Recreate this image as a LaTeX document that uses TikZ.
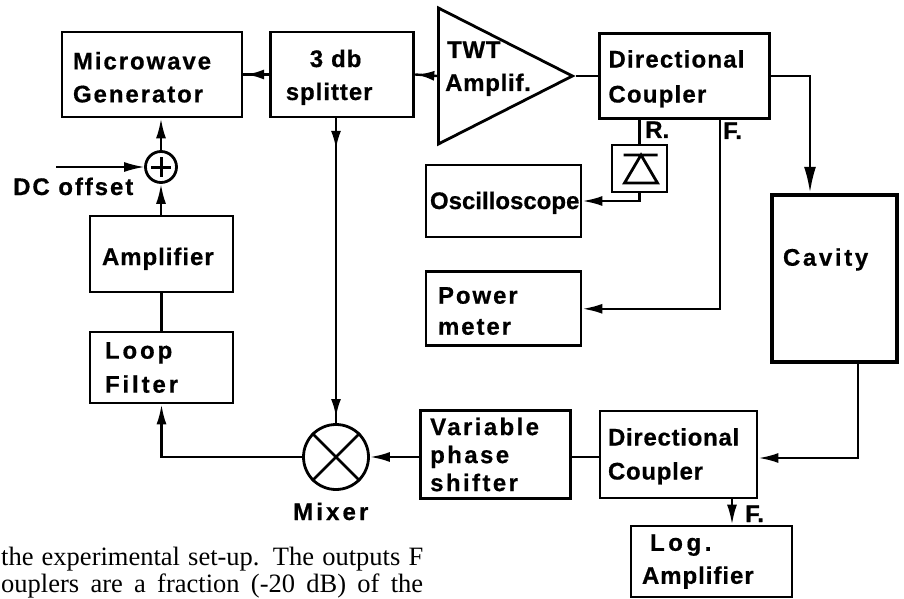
\documentclass[tikz,border=0pt]{standalone}
\usepackage{fontspec}
\usepackage{tikz}
\usetikzlibrary{arrows.meta,positioning,shapes.geometric,decorations.markings}
\newfontfamily\labfont{Liberation Sans}
\newfontfamily\capfont{Liberation Serif}
\newcommand{\dn}[1]{\rule{0pt}{#1pt}}

\begin{document}
\begin{tikzpicture}[x=1pt,y=-1pt,>=Latex,
  sp/.style={font=\labfont\bfseries\fontsize{24}{33}\selectfont\addfontfeatures{LetterSpace=#1,FakeBold=0.6}},
  blk/.style n args={4}{draw,line width=2.8pt,sp=#4,align=left,inner ysep=0pt,inner xsep=#3pt,minimum width=#1pt,minimum height=#2pt,text width={(#1-2*#3)*1pt}},
  lab/.style={sp=#1,inner sep=0pt,anchor=base west},
  cn/.style={line width=2.4pt},
  hd/.style={-{Latex[length=20pt,width=10pt]}},
  hdbig/.style={-{Latex[length=26pt,width=12pt]}},
  midhd/.style={postaction={decorate,decoration={markings,mark=at position #1 with {\arrow{Latex[length=18pt,width=10pt]}}}}},
  capl/.style={font=\capfont\fontsize{26.5}{30}\selectfont,inner sep=0pt,anchor=base west}]
\useasboundingbox (0,0) rectangle (904,599);
\node[blk={180}{85}{11}{8}] (gen) at (152,74.5) {\dn{23}Microwave\\Generator};
\node[blk={143}{85}{15}{4},right=26pt of gen] (split) {\dn{23}\hspace*{24pt}3 db\\splitter};
\node[draw,line width=2.8pt,isosceles triangle,isosceles triangle stretches,inner sep=0pt,minimum width=136pt,minimum height=134pt,anchor=lower side] (twt) at (437,76) {};
\node[lab=3] (twta) at (447,58) {TWT};
\node[lab=3] (twtb) at (445,91) {Amplif.};
\node[blk={170}{85}{9}{5},right=22pt of twt.apex] (coupA) {\dn{23}Directional\\[2pt]Coupler};
\node[blk={55}{47}{0}{0}] (dio) at (639.5,168.5) {};
\draw[line width=2.8pt,shift={(dio.center)}] (-16,-13.5) -- (18,-13.5) (1.5,-13.5) -- (-15,14.5) -- (18,14.5) -- cycle;
\node[lab=0] (rlab) at (645,138) {R.};
\node[lab=0] (flab) at (723,139) {F.};
\node[blk={155}{72}{4}{0}] (osc) at (503.5,201) {\dn{21}\mbox{Oscilloscope}};
\node[blk={155}{74}{12}{8},below=32pt of osc] (pow) {\dn{21}Power\\[-2pt]meter};
\node[blk={125}{167}{11}{11},line width=4.5pt] (cav) at (834.5,278.5) {Cavity\\[10pt]\mbox{}};
\node[blk={157}{87}{8}{3}] (coupB) at (678.5,454.5) {\dn{21}Directional\\[1pt]Coupler};
\node[blk={150}{88}{10}{10},left=27pt of coupB] (var) {Variable\\[-5pt]phase\\[-5pt]shifter};
\node[blk={161}{71}{11}{4}] (logamp) at (711.5,561.5) {\hspace*{8pt}{\addfontfeatures{LetterSpace=15}Log.}\\Amplifier};
\node[lab=0] (flabb) at (745,522) {F.};
\node[draw,circle,line width=2.8pt,minimum size=65pt,inner sep=0pt] (mix) at (336,457) {};
\draw[line width=2.8pt] (mix.45) -- (mix.225) (mix.135) -- (mix.315);
\node[lab=13] (mixlab) at (293,520) {Mixer};
\node[blk={143}{71}{15}{12}] (loopf) at (161.5,367.5) {Loop\\[1pt]Filter};
\node[blk={143}{76}{12}{4}] (amp) at (161.5,254) {\dn{27}Amplifier};
\node[draw,circle,line width=2.8pt,minimum size=31pt,inner sep=0pt] (pls) at (161,167) {};
\draw[line width=3pt,shorten >=7pt,shorten <=7pt] (pls.west) -- (pls.east);
\draw[line width=3pt,shorten >=7pt,shorten <=7pt] (pls.north) -- (pls.south);
\node[lab=8] (dclab) at (13,195) {DC offset};
\coordinate (dcin) at (56,167);
\coordinate (cavin) at (810,77);
\coordinate (cavout) at (858,458);
\coordinate (ftap) at (720,306);
\coordinate (ftapb) at (732,512);
\draw[cn,midhd=0.9] (split.west) -- (gen.east);
\draw[cn,midhd=0.95] (twt.lower side) -- (split.east);
\draw[cn,midhd=0.1,midhd=0.98] (split.south -| mix.north) -- (mix.north);
\draw[cn] (twt.apex) -- (coupA.west);
\draw[cn,hdbig] (coupA.east) -| (cav.north -| cavin);
\draw[cn] (coupA.south -| dio.north) -- (dio.north);
\draw[cn,hd] (dio.south) |- (osc.east);
\draw[cn,hd] (coupA.south -| ftap) |- (pow.east);
\draw[cn,hd] (cav.south -| cavout) -- (cavout) -- (coupB.east |- cavout);
\draw[cn,hd] (coupB.south -| ftapb) -- (logamp.north -| ftapb);
\draw[cn] (coupB.west |- mix.east) -- (var.east |- mix.east);
\draw[cn,hd] (var.west |- mix.east) -- (mix.east);
\draw[cn,hd] (mix.west) -| (loopf.south);
\draw[cn] (loopf.north) -- (amp.south);
\draw[cn,hd] (amp.north -| pls.south) -- (pls.south);
\draw[cn,hd] (pls.north) -- (gen.south -| pls.north);
\draw[cn,line width=1.6pt,hd] (dcin) -- (pls.west);
\node[capl] (capa) at (1,565) {\makebox[422pt][s]{the experimental set-up. The outputs F}};
\node[capl] (capb) at (1,592.5) {\makebox[422pt][s]{ouplers are a fraction (-20 dB) of the}};
\end{tikzpicture}
\end{document}
